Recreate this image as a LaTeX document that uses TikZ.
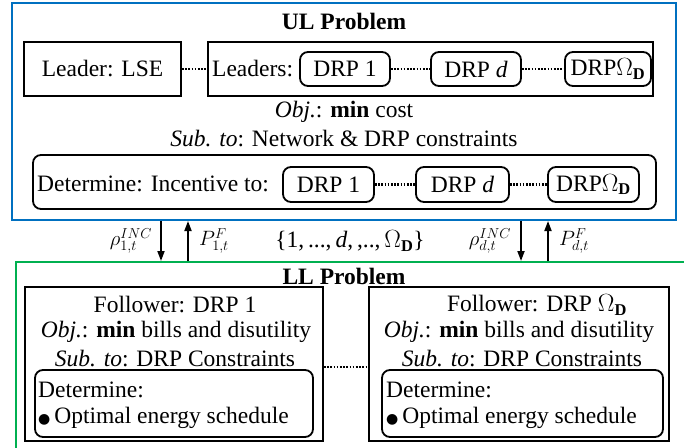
\documentclass[tikz,border=0pt]{standalone}
\usepackage{fontspec}
\setmainfont{Liberation Serif}
\newfontfamily\symf{DejaVu Sans}
\usetikzlibrary{arrows.meta}
\definecolor{ulblue}{RGB}{0,112,192}
\definecolor{llgreen}{RGB}{0,176,80}
\newcommand\myfs{\fontsize{23.5}{25}\selectfont}
\newcommand\lblfs{\fontsize{22.5}{24}\selectfont}
\newcommand\bigdot{{\fontsize{14}{14}\selectfont\symf ●}}
\tikzset{
  box/.style={draw, line width=1.8pt, inner sep=0pt},
  rbox/.style={draw, line width=1.8pt, rounded corners=8pt, inner sep=0pt},
  dots/.style={line width=2.4pt, dash pattern=on 1.6pt off 1.6pt},
  arr/.style={line width=1.8pt, -{Triangle[length=10pt,width=7pt]}},
  txt/.style={inner sep=0pt, font=\myfs},
  lbl/.style={inner sep=0pt, font=\lblfs},
}
\begin{document}
\begin{tikzpicture}[x=1pt,y=-1pt]
\useasboundingbox (0,0) rectangle (684,447);
% frames
\node[draw=ulblue, line width=2pt, minimum width=664pt, minimum height=217pt] (ul) at (344,111.5) {};
\node[draw=llgreen, line width=2pt, minimum width=684pt, minimum height=208pt] (ll) at (358,366) {};
% UL content
\node[txt, font=\myfs\bfseries] (ult) at (344,21) {UL Problem};
\node[box, minimum width=157pt, minimum height=54pt] (lse) at (102.5,69) {};
\node[txt] at (lse.center) {Leader: LSE};
\node[box, minimum width=445pt, minimum height=54pt] (lead) at (430.5,69) {};
\node[txt, anchor=west] (leadt) at (212,69) {Leaders:};
\node[rbox, minimum width=90pt, minimum height=34pt] (u1) at (345,69) {};
\node[txt] at (u1.center) {DRP 1};
\node[rbox, minimum width=90pt, minimum height=34pt] (ud) at (476,69) {};
\node[txt] at (ud.center) {DRP \textit{d}};
\node[rbox, minimum width=86pt, minimum height=34pt] (uo) at (608,69) {};
\node[txt] at (uo.center) {DRP$\Omega_{\mathbf{D}}$};
\draw[dots] (lse.east) -- (lead.west);
\draw[dots] (u1.east) -- (ud.west);
\draw[dots] (ud.east) -- (uo.west);
\node[txt] (obj) at (344,112) {\textit{Obj.}: \textbf{min} cost};
\node[txt] (sub) at (344,139) {\textit{Sub. to}: Network \& DRP constraints};
\node[rbox, minimum width=623pt, minimum height=54pt] (det) at (344.5,182) {};
\node[txt, anchor=west] (dett) at (37,184) {Determine: Incentive to:};
\node[rbox, minimum width=91pt, minimum height=35pt] (l1) at (328.5,184.5) {};
\node[txt] at (l1.center) {DRP 1};
\node[rbox, minimum width=93pt, minimum height=35pt] (ld) at (462.5,184.5) {};
\node[txt] at (ld.center) {DRP \textit{d}};
\node[rbox, minimum width=91pt, minimum height=35pt] (lo) at (593.5,184.5) {};
\node[txt] at (lo.center) {DRP$\Omega_{\mathbf{D}}$};
\draw[dots] (l1.east) -- (ld.west);
\draw[dots] (ld.east) -- (lo.west);
% arrows
\coordinate (a1) at (161,0);
\coordinate (a2) at (188,0);
\coordinate (a3) at (521,0);
\coordinate (a4) at (548,0);
\draw[arr] (a1 |- ul.south) -- (a1 |- ll.north);
\draw[arr] (a2 |- ll.north) -- (a2 |- ul.south);
\draw[arr] (a3 |- ul.south) -- (a3 |- ll.north);
\draw[arr] (a4 |- ll.north) -- (a4 |- ul.south);
\node[lbl] (r1) at (131,241) {$\rho_{1,t}^{INC}$};
\node[lbl] (p1) at (214,241) {$P_{1,t}^{F}$};
\node[txt] (set) at (350,241) {\{1,\,...,\,\textit{d},\,,..,\,$\Omega_{\mathbf{D}}$\}};
\node[lbl] (rd) at (490,241) {$\rho_{d,t}^{INC}$};
\node[lbl] (pd) at (574,241) {$P_{d,t}^{F}$};
% LL content
\node[txt, font=\myfs\bfseries] (llt) at (344,276) {LL Problem};
\node[box, minimum width=298pt, minimum height=154pt] (f1) at (174,364) {};
\node[box, minimum width=300pt, minimum height=154pt] (f2) at (519,364) {};
\node[txt] at (175,305) {Follower: DRP 1};
\node[txt] at (176,332) {\textit{Obj.}: \textbf{min} bills and disutility};
\node[txt] at (175,359) {\textit{Sub. to}: DRP Constraints};
\node[txt] at (537,305) {Follower: DRP $\Omega_{\mathbf{D}}$};
\node[txt] at (519,332) {\textit{Obj.}: \textbf{min} bills and disutility};
\node[txt] at (522,359) {\textit{Sub. to}: DRP Constraints};
\node[rbox, minimum width=278pt, minimum height=67pt] (d1) at (174,403.5) {};
\node[rbox, minimum width=281pt, minimum height=67pt] (d2) at (522.5,403.5) {};
\node[txt, anchor=west] at (38,390) {Determine:};
\node[txt, anchor=west] at (38,418) {\bigdot\,Optimal energy schedule};
\node[txt, anchor=west] at (386,390) {Determine:};
\node[txt, anchor=west] at (386,418) {\bigdot\,Optimal energy schedule};
\coordinate (ydot) at (0,367);
\draw[dots] (f1.east |- ydot) -- (f2.west |- ydot);
\end{tikzpicture}
\end{document}
